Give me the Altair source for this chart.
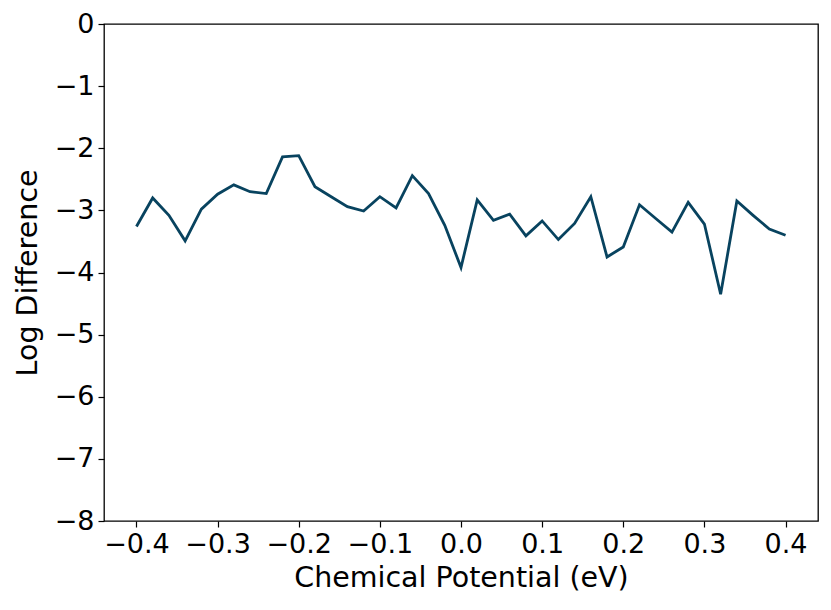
import altair as alt
import pandas as pd

mu = [round(-0.4 + 0.02 * i, 2) for i in range(41)]
log_diff = [-3.26, -2.80, -3.08, -3.49, -2.98, -2.74, -2.59, -2.70, -2.73, -2.14,
            -2.12, -2.62, -2.78, -2.94, -3.01, -2.78, -2.96, -2.44, -2.73, -3.24,
            -3.92, -2.83, -3.16, -3.06, -3.41, -3.17, -3.47, -3.21, -2.78, -3.75,
            -3.59, -2.91, -3.13, -3.35, -2.87, -3.22, -4.35, -2.85, -3.08, -3.30,
            -3.40]
x_ticks = [-0.4, -0.3, -0.2, -0.1, 0.0, 0.1, 0.2, 0.3, 0.4]
y_ticks = [-8, -7, -6, -5, -4, -3, -2, -1, 0]

df = pd.DataFrame({"mu": mu, "logdiff": log_diff})

FONT = "DejaVu Sans"
chart = alt.Chart(df).mark_line(color="#08435f", strokeWidth=2.8).encode(
    x=alt.X("mu:Q", scale=alt.Scale(domain=[-0.44, 0.44], nice=False, zero=False),
            axis=alt.Axis(values=x_ticks, format=".1f", title="Chemical Potential (eV)",
                          labelExpr="replace(datum.label, '-', '−')",
                          grid=False, domain=False, tickColor="black", tickSize=6,
                          tickWidth=1.2, labelPadding=4, labelFontSize=27, titleFontSize=28.5,
                          labelColor="black", titleColor="black", labelFont=FONT, titleFont=FONT,
                          titleFontWeight="normal", titlePadding=6, labelFlush=False)),
    y=alt.Y("logdiff:Q", scale=alt.Scale(domain=[-8, 0], nice=False, zero=False),
            axis=alt.Axis(values=y_ticks, format="d", title="Log Difference",
                          labelExpr="replace(datum.label, '-', '−')",
                          grid=False, domain=False, tickColor="black", tickSize=6,
                          tickWidth=1.2, labelPadding=4, labelFontSize=27, titleFontSize=28.5,
                          labelColor="black", titleColor="black", labelFont=FONT, titleFont=FONT,
                          titleFontWeight="normal", titlePadding=12, labelFlush=False)),
).properties(
    width=714, height=497,
    autosize=alt.AutoSizeParams(type="none"),
    padding={"left": 96, "top": 16, "right": 5, "bottom": 80},
    background="white",
).configure_view(stroke="black", strokeWidth=1.3)

chart.save("out.html", embed_options={"renderer": "svg", "actions": False})
